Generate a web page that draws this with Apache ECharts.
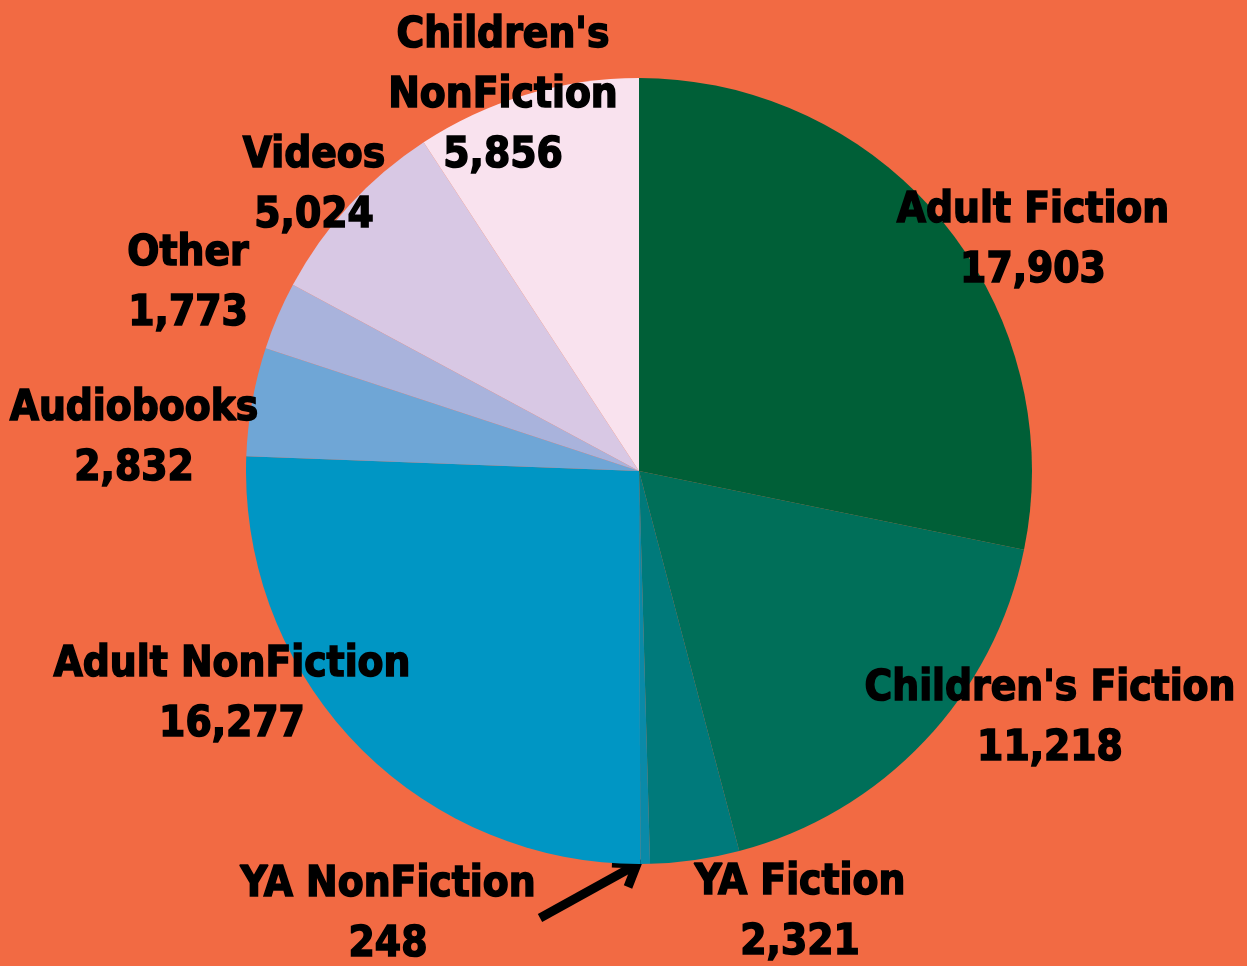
<!DOCTYPE html>
<html>
<head>
<meta charset="utf-8">
<script src="https://cdn.jsdelivr.net/npm/echarts@6/dist/echarts.min.js"></script>
<style>
  html, body { margin: 0; padding: 0; background: #f26a43; }
  #chart { width: 1247px; height: 966px; }
</style>
</head>
<body>
<div id="chart"></div>
<script>
// 分类与数值（顺时针，从12点方向开始）
const categories = ['Adult Fiction', "Children's Fiction", 'YA Fiction', 'YA NonFiction',
  'Adult NonFiction', 'Audiobooks', 'Other', 'Videos', "Children's NonFiction"]
const values = [17903, 11218, 2321, 248, 16277, 2832, 1773, 5024, 5856]
const colors = ['#005f37', '#006f59', '#007a7b', '#0a8aa8', '#0096c4',
  '#6fa6d6', '#a9b3dc', '#d8c8e4', '#f9e2ee']
// 标签换行
const labelNames = ['Adult Fiction', "Children's Fiction", 'YA Fiction', 'YA NonFiction',
  'Adult NonFiction', 'Audiobooks', 'Other', 'Videos', "Children's\nNonFiction"]
// 标签中心位置
const labelPos = [[1033, 241], [1050, 719], [800, 913], [388, 915], [232, 695],
  [134, 439], [188, 284], [314, 186], [503, 96]]

const myChart = echarts.init(document.getElementById('chart'))
myChart.setOption({
  backgroundColor: '#f26a43',
  animation: false,
  series: [{
    type: 'pie',
    center: [639, 471],
    radius: 393,
    startAngle: 90,
    clockwise: true,
    itemStyle: { borderWidth: 0 },
    data: categories.map((name, i) => ({
      name,
      value: values[i],
      itemStyle: { color: colors[i] }
    })),
    label: {
      show: true,
      position: 'inside',
      formatter: p => labelNames[p.dataIndex] + '\n' + p.value.toLocaleString('en-US'),
      color: '#000',
      fontFamily: 'DejaVu Sans Condensed, DejaVu Sans, sans-serif',
      fontWeight: 'bold',
      fontSize: 42,
      lineHeight: 60,
      textBorderColor: '#000',
      textBorderWidth: 1.5,
      align: 'center'
    },
    labelLine: { show: false },
    labelLayout: p => ({
      x: labelPos[p.dataIndex][0],
      y: labelPos[p.dataIndex][1],
      align: 'center',
      verticalAlign: 'middle'
    })
  }],
  // 指向 YA NonFiction 的箭头
  graphic: [{
    type: 'line',
    shape: { x1: 540, y1: 918, x2: 634, y2: 866 },
    style: { stroke: '#000', lineWidth: 9 }
  }, {
    type: 'polyline',
    shape: { points: [[612, 863], [637, 864], [628, 887]] },
    style: { stroke: '#000', lineWidth: 9, lineJoin: 'miter', fill: null }
  }]
})
</script>
</body>
</html>
